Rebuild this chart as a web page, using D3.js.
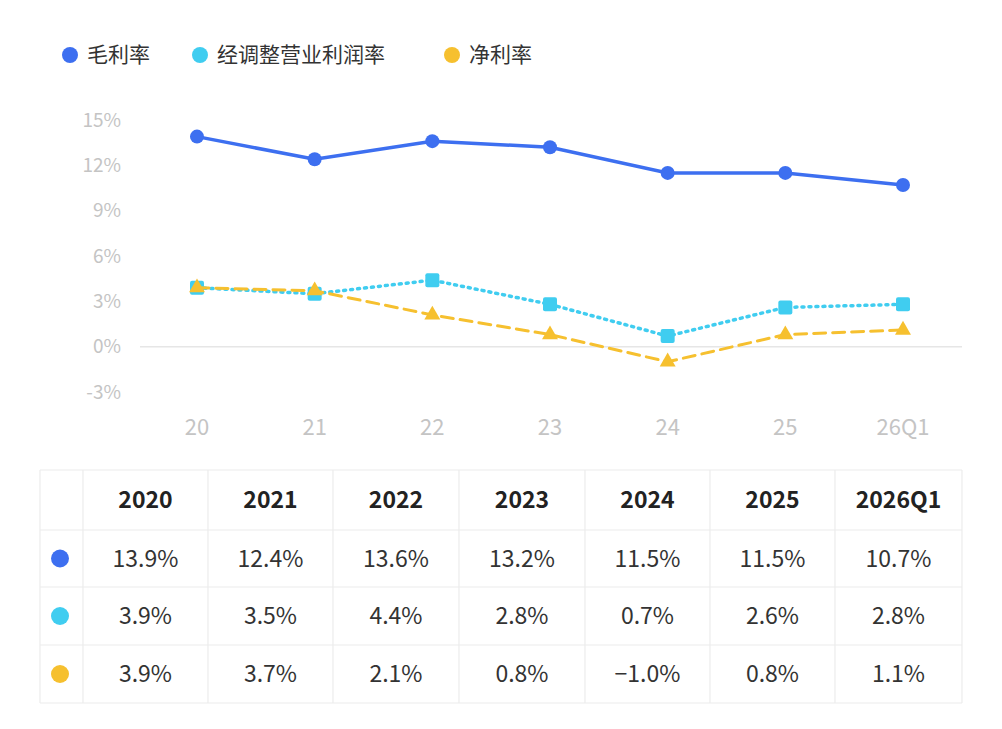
<!DOCTYPE html>
<html><head><meta charset="utf-8">
<script src="https://cdn.jsdelivr.net/npm/d3@7"></script>
<style>body{margin:0;background:#fff}text{font-family:"Noto Sans CJK SC","Noto Sans",sans-serif}</style>
</head><body>
<svg id="c" width="1002" height="729"></svg>
<script>
const xLabels = ["20","21","22","23","24","25","26Q1"]
const years = ["2020","2021","2022","2023","2024","2025","2026Q1"]
const gross = [13.9,12.4,13.6,13.2,11.5,11.5,10.7]
const adjOp = [3.9,3.5,4.4,2.8,0.7,2.6,2.8]
const net = [3.9,3.7,2.1,0.8,-1.0,0.8,1.1]
const yTicks = [15,12,9,6,3,0,-3]
const series = [
  {name:"毛利率", vals:gross, color:"#3d6ff0", dash:null, mark:"circle", w:3.5},
  {name:"经调整营业利润率", vals:adjOp, color:"#40cdf0", dash:"2,5", mark:"square", w:3.5},
  {name:"净利率", vals:net, color:"#f6c02f", dash:"12,7", mark:"triangle", w:3}
]

const svg = d3.select("#c")
const x = d3.scalePoint().domain(xLabels).range([197,903])
const y = d3.scaleLinear().domain([-3,15]).range([392,120])

// legend
const legX = [70,200,452]
series.forEach((s,i)=>{
  svg.append("circle").attr("cx",legX[i]).attr("cy",55).attr("r",8).attr("fill",s.color)
  svg.append("text").attr("x",legX[i]+17).attr("y",55).attr("dy","0.35em")
    .attr("font-size",21).attr("fill","#333").text(s.name)
})

// y axis labels
yTicks.forEach(t=>{
  svg.append("text").attr("x",121).attr("y",y(t)).attr("dy","0.35em").attr("text-anchor","end")
    .attr("font-size",19).attr("fill","#c4c4c4").text(t+"%")
})
svg.append("line").attr("x1",140).attr("x2",962).attr("y1",y(0)).attr("y2",y(0))
  .attr("stroke","#e6e6e6").attr("stroke-width",1.5)
xLabels.forEach(l=>{
  svg.append("text").attr("x",x(l)).attr("y",427).attr("dy","0.35em").attr("text-anchor","middle")
    .attr("font-size",22).attr("fill","#c4c4c4").text(l)
})

const line = d3.line().x((d,i)=>x(xLabels[i])).y(d=>y(d))
series.forEach(s=>{
  svg.append("path").attr("d",line(s.vals)).attr("fill","none").attr("stroke",s.color)
    .attr("stroke-width",s.w).attr("stroke-dasharray",s.dash).attr("stroke-linecap","round")
  s.vals.forEach((v,i)=>{
    const cx=x(xLabels[i]), cy=y(v)
    if(s.mark==="circle") svg.append("circle").attr("cx",cx).attr("cy",cy).attr("r",7).attr("fill",s.color)
    else if(s.mark==="square") svg.append("rect").attr("x",cx-7).attr("y",cy-7).attr("width",14).attr("height",14).attr("rx",2).attr("fill",s.color)
    else svg.append("path").attr("d",d3.symbol(d3.symbolTriangle,110)()).attr("transform",`translate(${cx},${cy})`).attr("fill",s.color)
  })
})

// table
const colB = [40,83,208,333,459,585,710,835,962]
const rowB = [470,530,587,645,703]
const tg = svg.append("g").attr("stroke","#ececec").attr("stroke-width",1.2)
colB.forEach(c=>tg.append("line").attr("x1",c).attr("x2",c).attr("y1",rowB[0]).attr("y2",rowB[4]))
rowB.forEach(r=>tg.append("line").attr("x1",colB[0]).attr("x2",colB[8]).attr("y1",r).attr("y2",r))
const fmt = v => (v<0?"\u2212"+Math.abs(v).toFixed(1):v.toFixed(1))+"%"
years.forEach((yr,i)=>{
  const cx=(colB[i+1]+colB[i+2])/2
  svg.append("text").attr("x",cx).attr("y",(rowB[0]+rowB[1])/2).attr("dy","0.35em").attr("text-anchor","middle")
    .attr("font-size",23).attr("font-weight","bold").attr("fill","#222").text(yr)
  series.forEach((s,j)=>{
    svg.append("text").attr("x",cx).attr("y",(rowB[j+1]+rowB[j+2])/2).attr("dy","0.35em").attr("text-anchor","middle")
      .attr("font-size",23).attr("fill","#333").text(fmt(s.vals[i]))
  })
})
series.forEach((s,j)=>{
  svg.append("circle").attr("cx",60).attr("cy",(rowB[j+1]+rowB[j+2])/2).attr("r",9).attr("fill",s.color)
})
</script>
</body></html>
